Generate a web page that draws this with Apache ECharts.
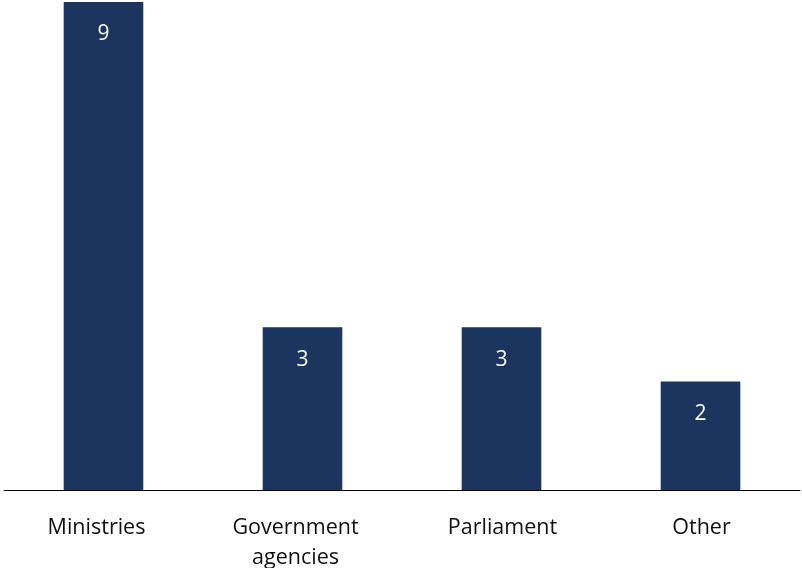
<!DOCTYPE html>
<html>
<head>
<meta charset="utf-8">
<script src="https://cdn.jsdelivr.net/npm/echarts@6/dist/echarts.min.js"></script>
<style>
  html, body { margin: 0; padding: 0; background: #fff; }
  #main { width: 802px; height: 568px; }
</style>
</head>
<body>
<div id="main"></div>
<script>
var categories = ['Ministries', 'Government\nagencies', 'Parliament', 'Other'];
var counts = [9, 3, 3, 2];
// the first two labels sit a little left of their bars in the original
var labelShift = [-7, -7, 1, 1];

var myChart = echarts.init(document.getElementById('main'));
var option = {
    animation: false,
    grid: {
        left: 4,
        right: 2,
        top: 2,
        bottom: 78,
        outerBoundsMode: 'none'
    },
    xAxis: {
        type: 'category',
        data: categories.map(function (c, i) {
            var s = labelShift[i];
            return {
                value: c,
                textStyle: {
                    padding: s < 0 ? [0, -2 * s, 0, 0] : [0, 0, 0, 2 * s]
                }
            };
        }),
        axisTick: { show: false },
        axisLine: {
            lineStyle: { color: '#000', width: 1 }
        },
        axisLabel: {
            interval: 0,
            margin: 23,
            color: '#111',
            fontSize: 21.5,
            lineHeight: 30,
            fontFamily: 'Open Sans'
        }
    },
    yAxis: {
        type: 'value',
        min: 0,
        max: 9,
        show: false
    },
    series: [
        {
            type: 'bar',
            barWidth: '40%',
            data: counts,
            itemStyle: { color: '#1c355e' },
            label: {
                show: true,
                position: 'insideTop',
                distance: 22,
                color: '#fff',
                fontSize: 21,
                fontFamily: 'Open Sans'
            }
        }
    ]
};
myChart.setOption(option);
window.addEventListener('resize', function () {
    myChart.resize();
});
</script>
</body>
</html>
